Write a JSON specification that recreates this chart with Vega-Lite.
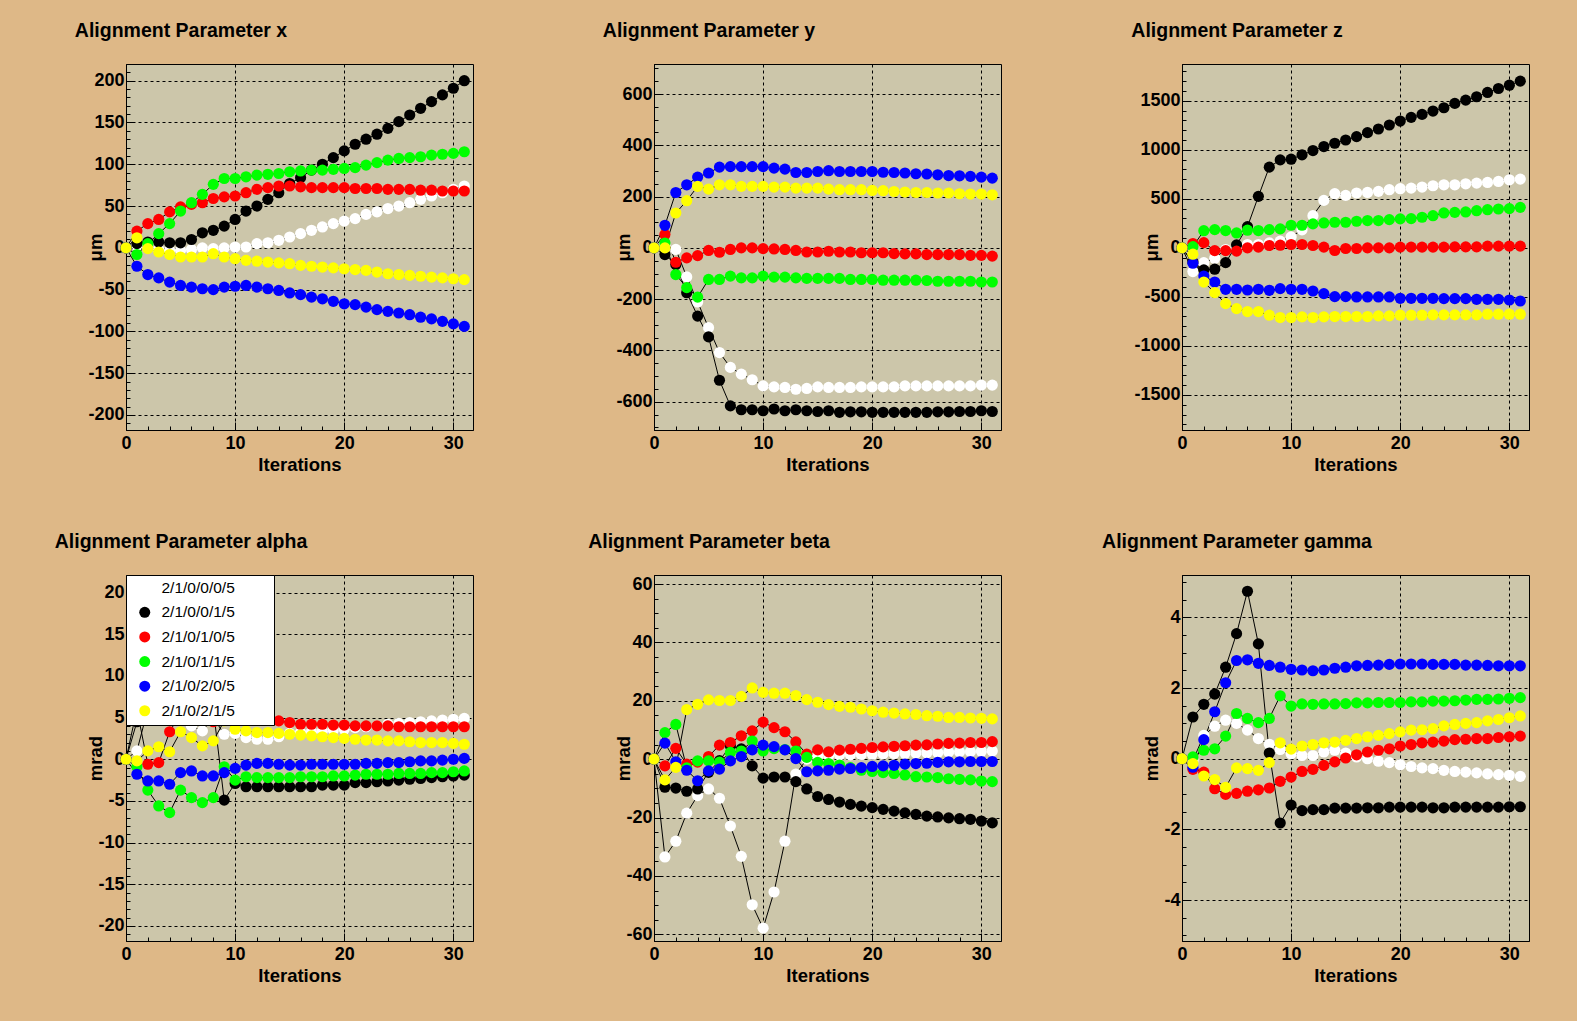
{
"$schema":"https://vega.github.io/schema/vega-lite/v6.json",
"background":"#DEB887",
"padding":{"left":54,"top":20,"right":47,"bottom":36},
"config":{
 "font":"Liberation Sans",
 "view":{"fill":"#CCC6AA","stroke":"#000000","strokeWidth":1},
 "title":{"font":"Liberation Sans","fontSize":19.5,"fontWeight":"bold","color":"#000000","anchor":"middle","frame":"group","dx":-118.5,"offset":22.5,"baseline":"alphabetic"},
 "axis":{"domainColor":"#000000","tickColor":"#000000","labelColor":"#000000","titleColor":"#000000","labelFont":"Liberation Sans","titleFont":"Liberation Sans","labelFontWeight":"bold","titleFontWeight":"bold","labelFontSize":18,"titleFontSize":18.5,"labelFlush":false,"labelOverlap":false,"labelExpr":"datum.value + ''","gridColor":"#000000","gridOpacity":1,"gridDash":[3,3],"gridWidth":1}
},
"datasets":{
"x":[
{"s":"2/1/0/0/0/5","i":0,"v":0},{"s":"2/1/0/0/0/5","i":1,"v":3},{"s":"2/1/0/0/0/5","i":2,"v":0},{"s":"2/1/0/0/0/5","i":3,"v":-2},{"s":"2/1/0/0/0/5","i":4,"v":-3},{"s":"2/1/0/0/0/5","i":5,"v":-3},{"s":"2/1/0/0/0/5","i":6,"v":-2},{"s":"2/1/0/0/0/5","i":7,"v":0},{"s":"2/1/0/0/0/5","i":8,"v":-1},{"s":"2/1/0/0/0/5","i":9,"v":0},{"s":"2/1/0/0/0/5","i":10,"v":1},{"s":"2/1/0/0/0/5","i":11,"v":1},{"s":"2/1/0/0/0/5","i":12,"v":5},{"s":"2/1/0/0/0/5","i":13,"v":6},{"s":"2/1/0/0/0/5","i":14,"v":9},{"s":"2/1/0/0/0/5","i":15,"v":13},{"s":"2/1/0/0/0/5","i":16,"v":17},{"s":"2/1/0/0/0/5","i":17,"v":21},{"s":"2/1/0/0/0/5","i":18,"v":25},{"s":"2/1/0/0/0/5","i":19,"v":29},{"s":"2/1/0/0/0/5","i":20,"v":32},{"s":"2/1/0/0/0/5","i":21,"v":35},{"s":"2/1/0/0/0/5","i":22,"v":40},{"s":"2/1/0/0/0/5","i":23,"v":43},{"s":"2/1/0/0/0/5","i":24,"v":47},{"s":"2/1/0/0/0/5","i":25,"v":50},{"s":"2/1/0/0/0/5","i":26,"v":54},{"s":"2/1/0/0/0/5","i":27,"v":58},{"s":"2/1/0/0/0/5","i":28,"v":62},{"s":"2/1/0/0/0/5","i":29,"v":66},{"s":"2/1/0/0/0/5","i":30,"v":70},{"s":"2/1/0/0/0/5","i":31,"v":74},
{"s":"2/1/0/0/1/5","i":0,"v":0},{"s":"2/1/0/0/1/5","i":1,"v":5},{"s":"2/1/0/0/1/5","i":2,"v":7},{"s":"2/1/0/0/1/5","i":3,"v":7},{"s":"2/1/0/0/1/5","i":4,"v":6},{"s":"2/1/0/0/1/5","i":5,"v":6},{"s":"2/1/0/0/1/5","i":6,"v":10},{"s":"2/1/0/0/1/5","i":7,"v":18},{"s":"2/1/0/0/1/5","i":8,"v":21},{"s":"2/1/0/0/1/5","i":9,"v":26},{"s":"2/1/0/0/1/5","i":10,"v":34},{"s":"2/1/0/0/1/5","i":11,"v":44},{"s":"2/1/0/0/1/5","i":12,"v":50},{"s":"2/1/0/0/1/5","i":13,"v":58},{"s":"2/1/0/0/1/5","i":14,"v":66},{"s":"2/1/0/0/1/5","i":15,"v":77},{"s":"2/1/0/0/1/5","i":16,"v":84},{"s":"2/1/0/0/1/5","i":17,"v":93},{"s":"2/1/0/0/1/5","i":18,"v":100},{"s":"2/1/0/0/1/5","i":19,"v":108},{"s":"2/1/0/0/1/5","i":20,"v":116},{"s":"2/1/0/0/1/5","i":21,"v":124},{"s":"2/1/0/0/1/5","i":22,"v":130},{"s":"2/1/0/0/1/5","i":23,"v":136},{"s":"2/1/0/0/1/5","i":24,"v":143},{"s":"2/1/0/0/1/5","i":25,"v":151},{"s":"2/1/0/0/1/5","i":26,"v":159},{"s":"2/1/0/0/1/5","i":27,"v":167},{"s":"2/1/0/0/1/5","i":28,"v":175},{"s":"2/1/0/0/1/5","i":29,"v":183},{"s":"2/1/0/0/1/5","i":30,"v":191},{"s":"2/1/0/0/1/5","i":31,"v":200},
{"s":"2/1/0/1/0/5","i":0,"v":0},{"s":"2/1/0/1/0/5","i":1,"v":20},{"s":"2/1/0/1/0/5","i":2,"v":29},{"s":"2/1/0/1/0/5","i":3,"v":34},{"s":"2/1/0/1/0/5","i":4,"v":43},{"s":"2/1/0/1/0/5","i":5,"v":49},{"s":"2/1/0/1/0/5","i":6,"v":52},{"s":"2/1/0/1/0/5","i":7,"v":54},{"s":"2/1/0/1/0/5","i":8,"v":59},{"s":"2/1/0/1/0/5","i":9,"v":61},{"s":"2/1/0/1/0/5","i":10,"v":62},{"s":"2/1/0/1/0/5","i":11,"v":66},{"s":"2/1/0/1/0/5","i":12,"v":70},{"s":"2/1/0/1/0/5","i":13,"v":72},{"s":"2/1/0/1/0/5","i":14,"v":74},{"s":"2/1/0/1/0/5","i":15,"v":74},{"s":"2/1/0/1/0/5","i":16,"v":73},{"s":"2/1/0/1/0/5","i":17,"v":72},{"s":"2/1/0/1/0/5","i":18,"v":72},{"s":"2/1/0/1/0/5","i":19,"v":72},{"s":"2/1/0/1/0/5","i":20,"v":72},{"s":"2/1/0/1/0/5","i":21,"v":71},{"s":"2/1/0/1/0/5","i":22,"v":71},{"s":"2/1/0/1/0/5","i":23,"v":71},{"s":"2/1/0/1/0/5","i":24,"v":70},{"s":"2/1/0/1/0/5","i":25,"v":70},{"s":"2/1/0/1/0/5","i":26,"v":70},{"s":"2/1/0/1/0/5","i":27,"v":69},{"s":"2/1/0/1/0/5","i":28,"v":69},{"s":"2/1/0/1/0/5","i":29,"v":68},{"s":"2/1/0/1/0/5","i":30,"v":68},{"s":"2/1/0/1/0/5","i":31,"v":68},
{"s":"2/1/0/1/1/5","i":0,"v":0},{"s":"2/1/0/1/1/5","i":1,"v":-8},{"s":"2/1/0/1/1/5","i":2,"v":5},{"s":"2/1/0/1/1/5","i":3,"v":17},{"s":"2/1/0/1/1/5","i":4,"v":29},{"s":"2/1/0/1/1/5","i":5,"v":44},{"s":"2/1/0/1/1/5","i":6,"v":54},{"s":"2/1/0/1/1/5","i":7,"v":64},{"s":"2/1/0/1/1/5","i":8,"v":76},{"s":"2/1/0/1/1/5","i":9,"v":83},{"s":"2/1/0/1/1/5","i":10,"v":83},{"s":"2/1/0/1/1/5","i":11,"v":85},{"s":"2/1/0/1/1/5","i":12,"v":87},{"s":"2/1/0/1/1/5","i":13,"v":88},{"s":"2/1/0/1/1/5","i":14,"v":89},{"s":"2/1/0/1/1/5","i":15,"v":91},{"s":"2/1/0/1/1/5","i":16,"v":92},{"s":"2/1/0/1/1/5","i":17,"v":93},{"s":"2/1/0/1/1/5","i":18,"v":93},{"s":"2/1/0/1/1/5","i":19,"v":94},{"s":"2/1/0/1/1/5","i":20,"v":95},{"s":"2/1/0/1/1/5","i":21,"v":96},{"s":"2/1/0/1/1/5","i":22,"v":99},{"s":"2/1/0/1/1/5","i":23,"v":102},{"s":"2/1/0/1/1/5","i":24,"v":105},{"s":"2/1/0/1/1/5","i":25,"v":107},{"s":"2/1/0/1/1/5","i":26,"v":108},{"s":"2/1/0/1/1/5","i":27,"v":109},{"s":"2/1/0/1/1/5","i":28,"v":111},{"s":"2/1/0/1/1/5","i":29,"v":112},{"s":"2/1/0/1/1/5","i":30,"v":113},{"s":"2/1/0/1/1/5","i":31,"v":115},
{"s":"2/1/0/2/0/5","i":0,"v":0},{"s":"2/1/0/2/0/5","i":1,"v":-22},{"s":"2/1/0/2/0/5","i":2,"v":-32},{"s":"2/1/0/2/0/5","i":3,"v":-36},{"s":"2/1/0/2/0/5","i":4,"v":-41},{"s":"2/1/0/2/0/5","i":5,"v":-45},{"s":"2/1/0/2/0/5","i":6,"v":-47},{"s":"2/1/0/2/0/5","i":7,"v":-49},{"s":"2/1/0/2/0/5","i":8,"v":-50},{"s":"2/1/0/2/0/5","i":9,"v":-47},{"s":"2/1/0/2/0/5","i":10,"v":-46},{"s":"2/1/0/2/0/5","i":11,"v":-45},{"s":"2/1/0/2/0/5","i":12,"v":-47},{"s":"2/1/0/2/0/5","i":13,"v":-49},{"s":"2/1/0/2/0/5","i":14,"v":-51},{"s":"2/1/0/2/0/5","i":15,"v":-54},{"s":"2/1/0/2/0/5","i":16,"v":-56},{"s":"2/1/0/2/0/5","i":17,"v":-59},{"s":"2/1/0/2/0/5","i":18,"v":-61},{"s":"2/1/0/2/0/5","i":19,"v":-64},{"s":"2/1/0/2/0/5","i":20,"v":-67},{"s":"2/1/0/2/0/5","i":21,"v":-68},{"s":"2/1/0/2/0/5","i":22,"v":-71},{"s":"2/1/0/2/0/5","i":23,"v":-74},{"s":"2/1/0/2/0/5","i":24,"v":-76},{"s":"2/1/0/2/0/5","i":25,"v":-78},{"s":"2/1/0/2/0/5","i":26,"v":-80},{"s":"2/1/0/2/0/5","i":27,"v":-83},{"s":"2/1/0/2/0/5","i":28,"v":-85},{"s":"2/1/0/2/0/5","i":29,"v":-88},{"s":"2/1/0/2/0/5","i":30,"v":-91},{"s":"2/1/0/2/0/5","i":31,"v":-94},
{"s":"2/1/0/2/1/5","i":0,"v":0},{"s":"2/1/0/2/1/5","i":1,"v":12},{"s":"2/1/0/2/1/5","i":2,"v":-1},{"s":"2/1/0/2/1/5","i":3,"v":-5},{"s":"2/1/0/2/1/5","i":4,"v":-8},{"s":"2/1/0/2/1/5","i":5,"v":-11},{"s":"2/1/0/2/1/5","i":6,"v":-11},{"s":"2/1/0/2/1/5","i":7,"v":-11},{"s":"2/1/0/2/1/5","i":8,"v":-7},{"s":"2/1/0/2/1/5","i":9,"v":-11},{"s":"2/1/0/2/1/5","i":10,"v":-13},{"s":"2/1/0/2/1/5","i":11,"v":-15},{"s":"2/1/0/2/1/5","i":12,"v":-16},{"s":"2/1/0/2/1/5","i":13,"v":-17},{"s":"2/1/0/2/1/5","i":14,"v":-18},{"s":"2/1/0/2/1/5","i":15,"v":-19},{"s":"2/1/0/2/1/5","i":16,"v":-21},{"s":"2/1/0/2/1/5","i":17,"v":-22},{"s":"2/1/0/2/1/5","i":18,"v":-23},{"s":"2/1/0/2/1/5","i":19,"v":-24},{"s":"2/1/0/2/1/5","i":20,"v":-25},{"s":"2/1/0/2/1/5","i":21,"v":-26},{"s":"2/1/0/2/1/5","i":22,"v":-27},{"s":"2/1/0/2/1/5","i":23,"v":-29},{"s":"2/1/0/2/1/5","i":24,"v":-31},{"s":"2/1/0/2/1/5","i":25,"v":-32},{"s":"2/1/0/2/1/5","i":26,"v":-33},{"s":"2/1/0/2/1/5","i":27,"v":-34},{"s":"2/1/0/2/1/5","i":28,"v":-35},{"s":"2/1/0/2/1/5","i":29,"v":-36},{"s":"2/1/0/2/1/5","i":30,"v":-37},{"s":"2/1/0/2/1/5","i":31,"v":-38}
],
"y":[
{"s":"2/1/0/0/0/5","i":0,"v":0},{"s":"2/1/0/0/0/5","i":1,"v":10},{"s":"2/1/0/0/0/5","i":2,"v":-6},{"s":"2/1/0/0/0/5","i":3,"v":-113},{"s":"2/1/0/0/0/5","i":4,"v":-211},{"s":"2/1/0/0/0/5","i":5,"v":-311},{"s":"2/1/0/0/0/5","i":6,"v":-408},{"s":"2/1/0/0/0/5","i":7,"v":-466},{"s":"2/1/0/0/0/5","i":8,"v":-492},{"s":"2/1/0/0/0/5","i":9,"v":-514},{"s":"2/1/0/0/0/5","i":10,"v":-538},{"s":"2/1/0/0/0/5","i":11,"v":-542},{"s":"2/1/0/0/0/5","i":12,"v":-544},{"s":"2/1/0/0/0/5","i":13,"v":-551},{"s":"2/1/0/0/0/5","i":14,"v":-548},{"s":"2/1/0/0/0/5","i":15,"v":-542},{"s":"2/1/0/0/0/5","i":16,"v":-544},{"s":"2/1/0/0/0/5","i":17,"v":-544},{"s":"2/1/0/0/0/5","i":18,"v":-544},{"s":"2/1/0/0/0/5","i":19,"v":-542},{"s":"2/1/0/0/0/5","i":20,"v":-542},{"s":"2/1/0/0/0/5","i":21,"v":-542},{"s":"2/1/0/0/0/5","i":22,"v":-542},{"s":"2/1/0/0/0/5","i":23,"v":-538},{"s":"2/1/0/0/0/5","i":24,"v":-538},{"s":"2/1/0/0/0/5","i":25,"v":-538},{"s":"2/1/0/0/0/5","i":26,"v":-538},{"s":"2/1/0/0/0/5","i":27,"v":-538},{"s":"2/1/0/0/0/5","i":28,"v":-538},{"s":"2/1/0/0/0/5","i":29,"v":-538},{"s":"2/1/0/0/0/5","i":30,"v":-535},{"s":"2/1/0/0/0/5","i":31,"v":-535},
{"s":"2/1/0/0/1/5","i":0,"v":0},{"s":"2/1/0/0/1/5","i":1,"v":-26},{"s":"2/1/0/0/1/5","i":2,"v":-65},{"s":"2/1/0/0/1/5","i":3,"v":-175},{"s":"2/1/0/0/1/5","i":4,"v":-266},{"s":"2/1/0/0/1/5","i":5,"v":-347},{"s":"2/1/0/0/1/5","i":6,"v":-516},{"s":"2/1/0/0/1/5","i":7,"v":-616},{"s":"2/1/0/0/1/5","i":8,"v":-631},{"s":"2/1/0/0/1/5","i":9,"v":-631},{"s":"2/1/0/0/1/5","i":10,"v":-635},{"s":"2/1/0/0/1/5","i":11,"v":-628},{"s":"2/1/0/0/1/5","i":12,"v":-635},{"s":"2/1/0/0/1/5","i":13,"v":-631},{"s":"2/1/0/0/1/5","i":14,"v":-635},{"s":"2/1/0/0/1/5","i":15,"v":-638},{"s":"2/1/0/0/1/5","i":16,"v":-635},{"s":"2/1/0/0/1/5","i":17,"v":-641},{"s":"2/1/0/0/1/5","i":18,"v":-639},{"s":"2/1/0/0/1/5","i":19,"v":-639},{"s":"2/1/0/0/1/5","i":20,"v":-641},{"s":"2/1/0/0/1/5","i":21,"v":-641},{"s":"2/1/0/0/1/5","i":22,"v":-641},{"s":"2/1/0/0/1/5","i":23,"v":-641},{"s":"2/1/0/0/1/5","i":24,"v":-641},{"s":"2/1/0/0/1/5","i":25,"v":-641},{"s":"2/1/0/0/1/5","i":26,"v":-639},{"s":"2/1/0/0/1/5","i":27,"v":-639},{"s":"2/1/0/0/1/5","i":28,"v":-638},{"s":"2/1/0/0/1/5","i":29,"v":-638},{"s":"2/1/0/0/1/5","i":30,"v":-635},{"s":"2/1/0/0/1/5","i":31,"v":-638},
{"s":"2/1/0/1/0/5","i":0,"v":0},{"s":"2/1/0/1/0/5","i":1,"v":52},{"s":"2/1/0/1/0/5","i":2,"v":-56},{"s":"2/1/0/1/0/5","i":3,"v":-39},{"s":"2/1/0/1/0/5","i":4,"v":-30},{"s":"2/1/0/1/0/5","i":5,"v":-10},{"s":"2/1/0/1/0/5","i":6,"v":-17},{"s":"2/1/0/1/0/5","i":7,"v":-6},{"s":"2/1/0/1/0/5","i":8,"v":0},{"s":"2/1/0/1/0/5","i":9,"v":0},{"s":"2/1/0/1/0/5","i":10,"v":-3},{"s":"2/1/0/1/0/5","i":11,"v":-4},{"s":"2/1/0/1/0/5","i":12,"v":-6},{"s":"2/1/0/1/0/5","i":13,"v":-10},{"s":"2/1/0/1/0/5","i":14,"v":-16},{"s":"2/1/0/1/0/5","i":15,"v":-16},{"s":"2/1/0/1/0/5","i":16,"v":-13},{"s":"2/1/0/1/0/5","i":17,"v":-16},{"s":"2/1/0/1/0/5","i":18,"v":-16},{"s":"2/1/0/1/0/5","i":19,"v":-19},{"s":"2/1/0/1/0/5","i":20,"v":-19},{"s":"2/1/0/1/0/5","i":21,"v":-19},{"s":"2/1/0/1/0/5","i":22,"v":-22},{"s":"2/1/0/1/0/5","i":23,"v":-23},{"s":"2/1/0/1/0/5","i":24,"v":-23},{"s":"2/1/0/1/0/5","i":25,"v":-26},{"s":"2/1/0/1/0/5","i":26,"v":-26},{"s":"2/1/0/1/0/5","i":27,"v":-26},{"s":"2/1/0/1/0/5","i":28,"v":-26},{"s":"2/1/0/1/0/5","i":29,"v":-29},{"s":"2/1/0/1/0/5","i":30,"v":-29},{"s":"2/1/0/1/0/5","i":31,"v":-32},
{"s":"2/1/0/1/1/5","i":0,"v":0},{"s":"2/1/0/1/1/5","i":1,"v":19},{"s":"2/1/0/1/1/5","i":2,"v":-104},{"s":"2/1/0/1/1/5","i":3,"v":-155},{"s":"2/1/0/1/1/5","i":4,"v":-192},{"s":"2/1/0/1/1/5","i":5,"v":-123},{"s":"2/1/0/1/1/5","i":6,"v":-123},{"s":"2/1/0/1/1/5","i":7,"v":-110},{"s":"2/1/0/1/1/5","i":8,"v":-117},{"s":"2/1/0/1/1/5","i":9,"v":-117},{"s":"2/1/0/1/1/5","i":10,"v":-110},{"s":"2/1/0/1/1/5","i":11,"v":-114},{"s":"2/1/0/1/1/5","i":12,"v":-114},{"s":"2/1/0/1/1/5","i":13,"v":-117},{"s":"2/1/0/1/1/5","i":14,"v":-119},{"s":"2/1/0/1/1/5","i":15,"v":-119},{"s":"2/1/0/1/1/5","i":16,"v":-119},{"s":"2/1/0/1/1/5","i":17,"v":-119},{"s":"2/1/0/1/1/5","i":18,"v":-123},{"s":"2/1/0/1/1/5","i":19,"v":-123},{"s":"2/1/0/1/1/5","i":20,"v":-123},{"s":"2/1/0/1/1/5","i":21,"v":-126},{"s":"2/1/0/1/1/5","i":22,"v":-126},{"s":"2/1/0/1/1/5","i":23,"v":-126},{"s":"2/1/0/1/1/5","i":24,"v":-126},{"s":"2/1/0/1/1/5","i":25,"v":-127},{"s":"2/1/0/1/1/5","i":26,"v":-130},{"s":"2/1/0/1/1/5","i":27,"v":-130},{"s":"2/1/0/1/1/5","i":28,"v":-130},{"s":"2/1/0/1/1/5","i":29,"v":-130},{"s":"2/1/0/1/1/5","i":30,"v":-133},{"s":"2/1/0/1/1/5","i":31,"v":-133},
{"s":"2/1/0/2/0/5","i":0,"v":0},{"s":"2/1/0/2/0/5","i":1,"v":88},{"s":"2/1/0/2/0/5","i":2,"v":216},{"s":"2/1/0/2/0/5","i":3,"v":246},{"s":"2/1/0/2/0/5","i":4,"v":276},{"s":"2/1/0/2/0/5","i":5,"v":292},{"s":"2/1/0/2/0/5","i":6,"v":315},{"s":"2/1/0/2/0/5","i":7,"v":317},{"s":"2/1/0/2/0/5","i":8,"v":317},{"s":"2/1/0/2/0/5","i":9,"v":317},{"s":"2/1/0/2/0/5","i":10,"v":317},{"s":"2/1/0/2/0/5","i":11,"v":311},{"s":"2/1/0/2/0/5","i":12,"v":307},{"s":"2/1/0/2/0/5","i":13,"v":294},{"s":"2/1/0/2/0/5","i":14,"v":294},{"s":"2/1/0/2/0/5","i":15,"v":298},{"s":"2/1/0/2/0/5","i":16,"v":301},{"s":"2/1/0/2/0/5","i":17,"v":298},{"s":"2/1/0/2/0/5","i":18,"v":298},{"s":"2/1/0/2/0/5","i":19,"v":298},{"s":"2/1/0/2/0/5","i":20,"v":298},{"s":"2/1/0/2/0/5","i":21,"v":295},{"s":"2/1/0/2/0/5","i":22,"v":294},{"s":"2/1/0/2/0/5","i":23,"v":292},{"s":"2/1/0/2/0/5","i":24,"v":289},{"s":"2/1/0/2/0/5","i":25,"v":288},{"s":"2/1/0/2/0/5","i":26,"v":285},{"s":"2/1/0/2/0/5","i":27,"v":282},{"s":"2/1/0/2/0/5","i":28,"v":281},{"s":"2/1/0/2/0/5","i":29,"v":279},{"s":"2/1/0/2/0/5","i":30,"v":276},{"s":"2/1/0/2/0/5","i":31,"v":272},
{"s":"2/1/0/2/1/5","i":0,"v":0},{"s":"2/1/0/2/1/5","i":1,"v":0},{"s":"2/1/0/2/1/5","i":2,"v":136},{"s":"2/1/0/2/1/5","i":3,"v":184},{"s":"2/1/0/2/1/5","i":4,"v":240},{"s":"2/1/0/2/1/5","i":5,"v":229},{"s":"2/1/0/2/1/5","i":6,"v":246},{"s":"2/1/0/2/1/5","i":7,"v":246},{"s":"2/1/0/2/1/5","i":8,"v":240},{"s":"2/1/0/2/1/5","i":9,"v":240},{"s":"2/1/0/2/1/5","i":10,"v":240},{"s":"2/1/0/2/1/5","i":11,"v":237},{"s":"2/1/0/2/1/5","i":12,"v":237},{"s":"2/1/0/2/1/5","i":13,"v":233},{"s":"2/1/0/2/1/5","i":14,"v":233},{"s":"2/1/0/2/1/5","i":15,"v":233},{"s":"2/1/0/2/1/5","i":16,"v":229},{"s":"2/1/0/2/1/5","i":17,"v":227},{"s":"2/1/0/2/1/5","i":18,"v":227},{"s":"2/1/0/2/1/5","i":19,"v":227},{"s":"2/1/0/2/1/5","i":20,"v":224},{"s":"2/1/0/2/1/5","i":21,"v":223},{"s":"2/1/0/2/1/5","i":22,"v":220},{"s":"2/1/0/2/1/5","i":23,"v":218},{"s":"2/1/0/2/1/5","i":24,"v":216},{"s":"2/1/0/2/1/5","i":25,"v":216},{"s":"2/1/0/2/1/5","i":26,"v":214},{"s":"2/1/0/2/1/5","i":27,"v":214},{"s":"2/1/0/2/1/5","i":28,"v":211},{"s":"2/1/0/2/1/5","i":29,"v":210},{"s":"2/1/0/2/1/5","i":30,"v":210},{"s":"2/1/0/2/1/5","i":31,"v":207}
],
"z":[
{"s":"2/1/0/0/0/5","i":0,"v":0},{"s":"2/1/0/0/0/5","i":1,"v":-242},{"s":"2/1/0/0/0/5","i":2,"v":-151},{"s":"2/1/0/0/0/5","i":3,"v":-106},{"s":"2/1/0/0/0/5","i":4,"v":-17},{"s":"2/1/0/0/0/5","i":5,"v":10},{"s":"2/1/0/0/0/5","i":6,"v":34},{"s":"2/1/0/0/0/5","i":7,"v":34},{"s":"2/1/0/0/0/5","i":8,"v":51},{"s":"2/1/0/0/0/5","i":9,"v":68},{"s":"2/1/0/0/0/5","i":10,"v":112},{"s":"2/1/0/0/0/5","i":11,"v":184},{"s":"2/1/0/0/0/5","i":12,"v":328},{"s":"2/1/0/0/0/5","i":13,"v":484},{"s":"2/1/0/0/0/5","i":14,"v":552},{"s":"2/1/0/0/0/5","i":15,"v":535},{"s":"2/1/0/0/0/5","i":16,"v":559},{"s":"2/1/0/0/0/5","i":17,"v":565},{"s":"2/1/0/0/0/5","i":18,"v":576},{"s":"2/1/0/0/0/5","i":19,"v":593},{"s":"2/1/0/0/0/5","i":20,"v":603},{"s":"2/1/0/0/0/5","i":21,"v":609},{"s":"2/1/0/0/0/5","i":22,"v":620},{"s":"2/1/0/0/0/5","i":23,"v":633},{"s":"2/1/0/0/0/5","i":24,"v":643},{"s":"2/1/0/0/0/5","i":25,"v":643},{"s":"2/1/0/0/0/5","i":26,"v":653},{"s":"2/1/0/0/0/5","i":27,"v":660},{"s":"2/1/0/0/0/5","i":28,"v":667},{"s":"2/1/0/0/0/5","i":29,"v":677},{"s":"2/1/0/0/0/5","i":30,"v":694},{"s":"2/1/0/0/0/5","i":31,"v":701},
{"s":"2/1/0/0/1/5","i":0,"v":0},{"s":"2/1/0/0/1/5","i":1,"v":-145},{"s":"2/1/0/0/1/5","i":2,"v":-225},{"s":"2/1/0/0/1/5","i":3,"v":-218},{"s":"2/1/0/0/1/5","i":4,"v":-151},{"s":"2/1/0/0/1/5","i":5,"v":30},{"s":"2/1/0/0/1/5","i":6,"v":216},{"s":"2/1/0/0/1/5","i":7,"v":525},{"s":"2/1/0/0/1/5","i":8,"v":823},{"s":"2/1/0/0/1/5","i":9,"v":897},{"s":"2/1/0/0/1/5","i":10,"v":904},{"s":"2/1/0/0/1/5","i":11,"v":948},{"s":"2/1/0/0/1/5","i":12,"v":992},{"s":"2/1/0/0/1/5","i":13,"v":1033},{"s":"2/1/0/0/1/5","i":14,"v":1067},{"s":"2/1/0/0/1/5","i":15,"v":1100},{"s":"2/1/0/0/1/5","i":16,"v":1134},{"s":"2/1/0/0/1/5","i":17,"v":1175},{"s":"2/1/0/0/1/5","i":18,"v":1212},{"s":"2/1/0/0/1/5","i":19,"v":1253},{"s":"2/1/0/0/1/5","i":20,"v":1293},{"s":"2/1/0/0/1/5","i":21,"v":1331},{"s":"2/1/0/0/1/5","i":22,"v":1361},{"s":"2/1/0/0/1/5","i":23,"v":1395},{"s":"2/1/0/0/1/5","i":24,"v":1429},{"s":"2/1/0/0/1/5","i":25,"v":1473},{"s":"2/1/0/0/1/5","i":26,"v":1507},{"s":"2/1/0/0/1/5","i":27,"v":1541},{"s":"2/1/0/0/1/5","i":28,"v":1585},{"s":"2/1/0/0/1/5","i":29,"v":1625},{"s":"2/1/0/0/1/5","i":30,"v":1659},{"s":"2/1/0/0/1/5","i":31,"v":1700},
{"s":"2/1/0/1/0/5","i":0,"v":0},{"s":"2/1/0/1/0/5","i":1,"v":44},{"s":"2/1/0/1/0/5","i":2,"v":53},{"s":"2/1/0/1/0/5","i":3,"v":-28},{"s":"2/1/0/1/0/5","i":4,"v":-28},{"s":"2/1/0/1/0/5","i":5,"v":-34},{"s":"2/1/0/1/0/5","i":6,"v":0},{"s":"2/1/0/1/0/5","i":7,"v":7},{"s":"2/1/0/1/0/5","i":8,"v":24},{"s":"2/1/0/1/0/5","i":9,"v":27},{"s":"2/1/0/1/0/5","i":10,"v":34},{"s":"2/1/0/1/0/5","i":11,"v":34},{"s":"2/1/0/1/0/5","i":12,"v":24},{"s":"2/1/0/1/0/5","i":13,"v":7},{"s":"2/1/0/1/0/5","i":14,"v":-27},{"s":"2/1/0/1/0/5","i":15,"v":-7},{"s":"2/1/0/1/0/5","i":16,"v":-7},{"s":"2/1/0/1/0/5","i":17,"v":0},{"s":"2/1/0/1/0/5","i":18,"v":0},{"s":"2/1/0/1/0/5","i":19,"v":0},{"s":"2/1/0/1/0/5","i":20,"v":7},{"s":"2/1/0/1/0/5","i":21,"v":7},{"s":"2/1/0/1/0/5","i":22,"v":7},{"s":"2/1/0/1/0/5","i":23,"v":7},{"s":"2/1/0/1/0/5","i":24,"v":7},{"s":"2/1/0/1/0/5","i":25,"v":10},{"s":"2/1/0/1/0/5","i":26,"v":10},{"s":"2/1/0/1/0/5","i":27,"v":10},{"s":"2/1/0/1/0/5","i":28,"v":17},{"s":"2/1/0/1/0/5","i":29,"v":17},{"s":"2/1/0/1/0/5","i":30,"v":17},{"s":"2/1/0/1/0/5","i":31,"v":17},
{"s":"2/1/0/1/1/5","i":0,"v":0},{"s":"2/1/0/1/1/5","i":1,"v":12},{"s":"2/1/0/1/1/5","i":2,"v":175},{"s":"2/1/0/1/1/5","i":3,"v":186},{"s":"2/1/0/1/1/5","i":4,"v":176},{"s":"2/1/0/1/1/5","i":5,"v":152},{"s":"2/1/0/1/1/5","i":6,"v":180},{"s":"2/1/0/1/1/5","i":7,"v":176},{"s":"2/1/0/1/1/5","i":8,"v":186},{"s":"2/1/0/1/1/5","i":9,"v":193},{"s":"2/1/0/1/1/5","i":10,"v":230},{"s":"2/1/0/1/1/5","i":11,"v":230},{"s":"2/1/0/1/1/5","i":12,"v":244},{"s":"2/1/0/1/1/5","i":13,"v":254},{"s":"2/1/0/1/1/5","i":14,"v":261},{"s":"2/1/0/1/1/5","i":15,"v":261},{"s":"2/1/0/1/1/5","i":16,"v":271},{"s":"2/1/0/1/1/5","i":17,"v":278},{"s":"2/1/0/1/1/5","i":18,"v":278},{"s":"2/1/0/1/1/5","i":19,"v":288},{"s":"2/1/0/1/1/5","i":20,"v":295},{"s":"2/1/0/1/1/5","i":21,"v":298},{"s":"2/1/0/1/1/5","i":22,"v":312},{"s":"2/1/0/1/1/5","i":23,"v":328},{"s":"2/1/0/1/1/5","i":24,"v":356},{"s":"2/1/0/1/1/5","i":25,"v":362},{"s":"2/1/0/1/1/5","i":26,"v":366},{"s":"2/1/0/1/1/5","i":27,"v":379},{"s":"2/1/0/1/1/5","i":28,"v":389},{"s":"2/1/0/1/1/5","i":29,"v":396},{"s":"2/1/0/1/1/5","i":30,"v":400},{"s":"2/1/0/1/1/5","i":31,"v":413},
{"s":"2/1/0/2/0/5","i":0,"v":0},{"s":"2/1/0/2/0/5","i":1,"v":-157},{"s":"2/1/0/2/0/5","i":2,"v":-288},{"s":"2/1/0/2/0/5","i":3,"v":-349},{"s":"2/1/0/2/0/5","i":4,"v":-423},{"s":"2/1/0/2/0/5","i":5,"v":-423},{"s":"2/1/0/2/0/5","i":6,"v":-430},{"s":"2/1/0/2/0/5","i":7,"v":-423},{"s":"2/1/0/2/0/5","i":8,"v":-433},{"s":"2/1/0/2/0/5","i":9,"v":-416},{"s":"2/1/0/2/0/5","i":10,"v":-423},{"s":"2/1/0/2/0/5","i":11,"v":-423},{"s":"2/1/0/2/0/5","i":12,"v":-440},{"s":"2/1/0/2/0/5","i":13,"v":-467},{"s":"2/1/0/2/0/5","i":14,"v":-498},{"s":"2/1/0/2/0/5","i":15,"v":-498},{"s":"2/1/0/2/0/5","i":16,"v":-501},{"s":"2/1/0/2/0/5","i":17,"v":-501},{"s":"2/1/0/2/0/5","i":18,"v":-501},{"s":"2/1/0/2/0/5","i":19,"v":-501},{"s":"2/1/0/2/0/5","i":20,"v":-515},{"s":"2/1/0/2/0/5","i":21,"v":-515},{"s":"2/1/0/2/0/5","i":22,"v":-515},{"s":"2/1/0/2/0/5","i":23,"v":-515},{"s":"2/1/0/2/0/5","i":24,"v":-518},{"s":"2/1/0/2/0/5","i":25,"v":-518},{"s":"2/1/0/2/0/5","i":26,"v":-518},{"s":"2/1/0/2/0/5","i":27,"v":-525},{"s":"2/1/0/2/0/5","i":28,"v":-525},{"s":"2/1/0/2/0/5","i":29,"v":-525},{"s":"2/1/0/2/0/5","i":30,"v":-532},{"s":"2/1/0/2/0/5","i":31,"v":-542},
{"s":"2/1/0/2/1/5","i":0,"v":0},{"s":"2/1/0/2/1/5","i":1,"v":-65},{"s":"2/1/0/2/1/5","i":2,"v":-349},{"s":"2/1/0/2/1/5","i":3,"v":-457},{"s":"2/1/0/2/1/5","i":4,"v":-569},{"s":"2/1/0/2/1/5","i":5,"v":-620},{"s":"2/1/0/2/1/5","i":6,"v":-650},{"s":"2/1/0/2/1/5","i":7,"v":-650},{"s":"2/1/0/2/1/5","i":8,"v":-687},{"s":"2/1/0/2/1/5","i":9,"v":-711},{"s":"2/1/0/2/1/5","i":10,"v":-711},{"s":"2/1/0/2/1/5","i":11,"v":-704},{"s":"2/1/0/2/1/5","i":12,"v":-711},{"s":"2/1/0/2/1/5","i":13,"v":-704},{"s":"2/1/0/2/1/5","i":14,"v":-701},{"s":"2/1/0/2/1/5","i":15,"v":-701},{"s":"2/1/0/2/1/5","i":16,"v":-701},{"s":"2/1/0/2/1/5","i":17,"v":-701},{"s":"2/1/0/2/1/5","i":18,"v":-694},{"s":"2/1/0/2/1/5","i":19,"v":-694},{"s":"2/1/0/2/1/5","i":20,"v":-687},{"s":"2/1/0/2/1/5","i":21,"v":-687},{"s":"2/1/0/2/1/5","i":22,"v":-687},{"s":"2/1/0/2/1/5","i":23,"v":-684},{"s":"2/1/0/2/1/5","i":24,"v":-684},{"s":"2/1/0/2/1/5","i":25,"v":-684},{"s":"2/1/0/2/1/5","i":26,"v":-684},{"s":"2/1/0/2/1/5","i":27,"v":-684},{"s":"2/1/0/2/1/5","i":28,"v":-677},{"s":"2/1/0/2/1/5","i":29,"v":-677},{"s":"2/1/0/2/1/5","i":30,"v":-677},{"s":"2/1/0/2/1/5","i":31,"v":-677}
],
"alpha":[
{"s":"2/1/0/0/0/5","i":0,"v":0},{"s":"2/1/0/0/0/5","i":1,"v":1.0},{"s":"2/1/0/0/0/5","i":2,"v":6},{"s":"2/1/0/0/0/5","i":3,"v":8},{"s":"2/1/0/0/0/5","i":4,"v":7},{"s":"2/1/0/0/0/5","i":5,"v":5},{"s":"2/1/0/0/0/5","i":6,"v":4},{"s":"2/1/0/0/0/5","i":7,"v":3.4},{"s":"2/1/0/0/0/5","i":8,"v":5},{"s":"2/1/0/0/0/5","i":9,"v":3.0},{"s":"2/1/0/0/0/5","i":10,"v":3.1},{"s":"2/1/0/0/0/5","i":11,"v":2.6},{"s":"2/1/0/0/0/5","i":12,"v":2.4},{"s":"2/1/0/0/0/5","i":13,"v":2.4},{"s":"2/1/0/0/0/5","i":14,"v":2.7},{"s":"2/1/0/0/0/5","i":15,"v":3.1},{"s":"2/1/0/0/0/5","i":16,"v":3.2},{"s":"2/1/0/0/0/5","i":17,"v":3.3},{"s":"2/1/0/0/0/5","i":18,"v":3.4},{"s":"2/1/0/0/0/5","i":19,"v":3.5},{"s":"2/1/0/0/0/5","i":20,"v":3.6},{"s":"2/1/0/0/0/5","i":21,"v":3.8},{"s":"2/1/0/0/0/5","i":22,"v":3.9},{"s":"2/1/0/0/0/5","i":23,"v":4.0},{"s":"2/1/0/0/0/5","i":24,"v":4.2},{"s":"2/1/0/0/0/5","i":25,"v":4.3},{"s":"2/1/0/0/0/5","i":26,"v":4.4},{"s":"2/1/0/0/0/5","i":27,"v":4.5},{"s":"2/1/0/0/0/5","i":28,"v":4.6},{"s":"2/1/0/0/0/5","i":29,"v":4.7},{"s":"2/1/0/0/0/5","i":30,"v":4.8},{"s":"2/1/0/0/0/5","i":31,"v":4.9},
{"s":"2/1/0/0/1/5","i":0,"v":0},{"s":"2/1/0/0/1/5","i":1,"v":4.5},{"s":"2/1/0/0/1/5","i":2,"v":7},{"s":"2/1/0/0/1/5","i":3,"v":9},{"s":"2/1/0/0/1/5","i":4,"v":10},{"s":"2/1/0/0/1/5","i":5,"v":8},{"s":"2/1/0/0/1/5","i":6,"v":7},{"s":"2/1/0/0/1/5","i":7,"v":6},{"s":"2/1/0/0/1/5","i":8,"v":6},{"s":"2/1/0/0/1/5","i":9,"v":-4.9},{"s":"2/1/0/0/1/5","i":10,"v":-2.9},{"s":"2/1/0/0/1/5","i":11,"v":-3.3},{"s":"2/1/0/0/1/5","i":12,"v":-3.3},{"s":"2/1/0/0/1/5","i":13,"v":-3.3},{"s":"2/1/0/0/1/5","i":14,"v":-3.3},{"s":"2/1/0/0/1/5","i":15,"v":-3.3},{"s":"2/1/0/0/1/5","i":16,"v":-3.3},{"s":"2/1/0/0/1/5","i":17,"v":-3.3},{"s":"2/1/0/0/1/5","i":18,"v":-3.1},{"s":"2/1/0/0/1/5","i":19,"v":-3.1},{"s":"2/1/0/0/1/5","i":20,"v":-3.1},{"s":"2/1/0/0/1/5","i":21,"v":-2.8},{"s":"2/1/0/0/1/5","i":22,"v":-2.8},{"s":"2/1/0/0/1/5","i":23,"v":-2.7},{"s":"2/1/0/0/1/5","i":24,"v":-2.6},{"s":"2/1/0/0/1/5","i":25,"v":-2.5},{"s":"2/1/0/0/1/5","i":26,"v":-2.4},{"s":"2/1/0/0/1/5","i":27,"v":-2.3},{"s":"2/1/0/0/1/5","i":28,"v":-2.2},{"s":"2/1/0/0/1/5","i":29,"v":-2.1},{"s":"2/1/0/0/1/5","i":30,"v":-2.0},{"s":"2/1/0/0/1/5","i":31,"v":-1.9},
{"s":"2/1/0/1/0/5","i":0,"v":0},{"s":"2/1/0/1/0/5","i":1,"v":6},{"s":"2/1/0/1/0/5","i":2,"v":-0.6},{"s":"2/1/0/1/0/5","i":3,"v":-0.4},{"s":"2/1/0/1/0/5","i":4,"v":3.3},{"s":"2/1/0/1/0/5","i":5,"v":5.5},{"s":"2/1/0/1/0/5","i":6,"v":6},{"s":"2/1/0/1/0/5","i":7,"v":5.5},{"s":"2/1/0/1/0/5","i":8,"v":4.5},{"s":"2/1/0/1/0/5","i":9,"v":4.7},{"s":"2/1/0/1/0/5","i":10,"v":5.0},{"s":"2/1/0/1/0/5","i":11,"v":4.9},{"s":"2/1/0/1/0/5","i":12,"v":4.8},{"s":"2/1/0/1/0/5","i":13,"v":4.7},{"s":"2/1/0/1/0/5","i":14,"v":4.6},{"s":"2/1/0/1/0/5","i":15,"v":4.4},{"s":"2/1/0/1/0/5","i":16,"v":4.2},{"s":"2/1/0/1/0/5","i":17,"v":4.2},{"s":"2/1/0/1/0/5","i":18,"v":4.2},{"s":"2/1/0/1/0/5","i":19,"v":4.1},{"s":"2/1/0/1/0/5","i":20,"v":4.1},{"s":"2/1/0/1/0/5","i":21,"v":4.0},{"s":"2/1/0/1/0/5","i":22,"v":4.0},{"s":"2/1/0/1/0/5","i":23,"v":4.0},{"s":"2/1/0/1/0/5","i":24,"v":4.0},{"s":"2/1/0/1/0/5","i":25,"v":3.9},{"s":"2/1/0/1/0/5","i":26,"v":3.9},{"s":"2/1/0/1/0/5","i":27,"v":3.9},{"s":"2/1/0/1/0/5","i":28,"v":3.9},{"s":"2/1/0/1/0/5","i":29,"v":3.9},{"s":"2/1/0/1/0/5","i":30,"v":3.9},{"s":"2/1/0/1/0/5","i":31,"v":3.9},
{"s":"2/1/0/1/1/5","i":0,"v":0},{"s":"2/1/0/1/1/5","i":1,"v":-0.9},{"s":"2/1/0/1/1/5","i":2,"v":-3.7},{"s":"2/1/0/1/1/5","i":3,"v":-5.6},{"s":"2/1/0/1/1/5","i":4,"v":-6.4},{"s":"2/1/0/1/1/5","i":5,"v":-3.7},{"s":"2/1/0/1/1/5","i":6,"v":-4.6},{"s":"2/1/0/1/1/5","i":7,"v":-5.2},{"s":"2/1/0/1/1/5","i":8,"v":-4.6},{"s":"2/1/0/1/1/5","i":9,"v":-0.9},{"s":"2/1/0/1/1/5","i":10,"v":-2.5},{"s":"2/1/0/1/1/5","i":11,"v":-2.1},{"s":"2/1/0/1/1/5","i":12,"v":-2.2},{"s":"2/1/0/1/1/5","i":13,"v":-2.2},{"s":"2/1/0/1/1/5","i":14,"v":-2.2},{"s":"2/1/0/1/1/5","i":15,"v":-2.2},{"s":"2/1/0/1/1/5","i":16,"v":-2.1},{"s":"2/1/0/1/1/5","i":17,"v":-2.1},{"s":"2/1/0/1/1/5","i":18,"v":-2.1},{"s":"2/1/0/1/1/5","i":19,"v":-2.0},{"s":"2/1/0/1/1/5","i":20,"v":-2.0},{"s":"2/1/0/1/1/5","i":21,"v":-1.9},{"s":"2/1/0/1/1/5","i":22,"v":-1.8},{"s":"2/1/0/1/1/5","i":23,"v":-1.8},{"s":"2/1/0/1/1/5","i":24,"v":-1.8},{"s":"2/1/0/1/1/5","i":25,"v":-1.7},{"s":"2/1/0/1/1/5","i":26,"v":-1.7},{"s":"2/1/0/1/1/5","i":27,"v":-1.7},{"s":"2/1/0/1/1/5","i":28,"v":-1.6},{"s":"2/1/0/1/1/5","i":29,"v":-1.6},{"s":"2/1/0/1/1/5","i":30,"v":-1.5},{"s":"2/1/0/1/1/5","i":31,"v":-1.4},
{"s":"2/1/0/2/0/5","i":0,"v":0},{"s":"2/1/0/2/0/5","i":1,"v":-1.8},{"s":"2/1/0/2/0/5","i":2,"v":-2.6},{"s":"2/1/0/2/0/5","i":3,"v":-2.6},{"s":"2/1/0/2/0/5","i":4,"v":-3.0},{"s":"2/1/0/2/0/5","i":5,"v":-1.6},{"s":"2/1/0/2/0/5","i":6,"v":-1.4},{"s":"2/1/0/2/0/5","i":7,"v":-2.0},{"s":"2/1/0/2/0/5","i":8,"v":-2.0},{"s":"2/1/0/2/0/5","i":9,"v":-1.6},{"s":"2/1/0/2/0/5","i":10,"v":-1.1},{"s":"2/1/0/2/0/5","i":11,"v":-0.7},{"s":"2/1/0/2/0/5","i":12,"v":-0.5},{"s":"2/1/0/2/0/5","i":13,"v":-0.5},{"s":"2/1/0/2/0/5","i":14,"v":-0.6},{"s":"2/1/0/2/0/5","i":15,"v":-0.7},{"s":"2/1/0/2/0/5","i":16,"v":-0.7},{"s":"2/1/0/2/0/5","i":17,"v":-0.6},{"s":"2/1/0/2/0/5","i":18,"v":-0.6},{"s":"2/1/0/2/0/5","i":19,"v":-0.6},{"s":"2/1/0/2/0/5","i":20,"v":-0.6},{"s":"2/1/0/2/0/5","i":21,"v":-0.6},{"s":"2/1/0/2/0/5","i":22,"v":-0.5},{"s":"2/1/0/2/0/5","i":23,"v":-0.5},{"s":"2/1/0/2/0/5","i":24,"v":-0.4},{"s":"2/1/0/2/0/5","i":25,"v":-0.4},{"s":"2/1/0/2/0/5","i":26,"v":-0.3},{"s":"2/1/0/2/0/5","i":27,"v":-0.2},{"s":"2/1/0/2/0/5","i":28,"v":-0.2},{"s":"2/1/0/2/0/5","i":29,"v":-0.1},{"s":"2/1/0/2/0/5","i":30,"v":0.0},{"s":"2/1/0/2/0/5","i":31,"v":0.1},
{"s":"2/1/0/2/1/5","i":0,"v":0},{"s":"2/1/0/2/1/5","i":1,"v":-0.2},{"s":"2/1/0/2/1/5","i":2,"v":1.0},{"s":"2/1/0/2/1/5","i":3,"v":1.5},{"s":"2/1/0/2/1/5","i":4,"v":0.9},{"s":"2/1/0/2/1/5","i":5,"v":3.3},{"s":"2/1/0/2/1/5","i":6,"v":2.6},{"s":"2/1/0/2/1/5","i":7,"v":1.6},{"s":"2/1/0/2/1/5","i":8,"v":2.2},{"s":"2/1/0/2/1/5","i":9,"v":4.6},{"s":"2/1/0/2/1/5","i":10,"v":3.6},{"s":"2/1/0/2/1/5","i":11,"v":3.4},{"s":"2/1/0/2/1/5","i":12,"v":3.2},{"s":"2/1/0/2/1/5","i":13,"v":3.2},{"s":"2/1/0/2/1/5","i":14,"v":3.1},{"s":"2/1/0/2/1/5","i":15,"v":3.0},{"s":"2/1/0/2/1/5","i":16,"v":2.9},{"s":"2/1/0/2/1/5","i":17,"v":2.8},{"s":"2/1/0/2/1/5","i":18,"v":2.7},{"s":"2/1/0/2/1/5","i":19,"v":2.6},{"s":"2/1/0/2/1/5","i":20,"v":2.5},{"s":"2/1/0/2/1/5","i":21,"v":2.4},{"s":"2/1/0/2/1/5","i":22,"v":2.3},{"s":"2/1/0/2/1/5","i":23,"v":2.3},{"s":"2/1/0/2/1/5","i":24,"v":2.2},{"s":"2/1/0/2/1/5","i":25,"v":2.2},{"s":"2/1/0/2/1/5","i":26,"v":2.1},{"s":"2/1/0/2/1/5","i":27,"v":2.0},{"s":"2/1/0/2/1/5","i":28,"v":2.0},{"s":"2/1/0/2/1/5","i":29,"v":2.0},{"s":"2/1/0/2/1/5","i":30,"v":1.9},{"s":"2/1/0/2/1/5","i":31,"v":1.8}
],
"beta":[
{"s":"2/1/0/0/0/5","i":0,"v":0},{"s":"2/1/0/0/0/5","i":1,"v":-33.5},{"s":"2/1/0/0/0/5","i":2,"v":-28.1},{"s":"2/1/0/0/0/5","i":3,"v":-18.5},{"s":"2/1/0/0/0/5","i":4,"v":-12.5},{"s":"2/1/0/0/0/5","i":5,"v":-10.2},{"s":"2/1/0/0/0/5","i":6,"v":-13.4},{"s":"2/1/0/0/0/5","i":7,"v":-22.9},{"s":"2/1/0/0/0/5","i":8,"v":-33.3},{"s":"2/1/0/0/0/5","i":9,"v":-49.9},{"s":"2/1/0/0/0/5","i":10,"v":-57.9},{"s":"2/1/0/0/0/5","i":11,"v":-45.5},{"s":"2/1/0/0/0/5","i":12,"v":-28.1},{"s":"2/1/0/0/0/5","i":13,"v":-5.1},{"s":"2/1/0/0/0/5","i":14,"v":0},{"s":"2/1/0/0/0/5","i":15,"v":1.0},{"s":"2/1/0/0/0/5","i":16,"v":1.2},{"s":"2/1/0/0/0/5","i":17,"v":1.4},{"s":"2/1/0/0/0/5","i":18,"v":1.5},{"s":"2/1/0/0/0/5","i":19,"v":1.6},{"s":"2/1/0/0/0/5","i":20,"v":1.7},{"s":"2/1/0/0/0/5","i":21,"v":1.8},{"s":"2/1/0/0/0/5","i":22,"v":1.9},{"s":"2/1/0/0/0/5","i":23,"v":2.0},{"s":"2/1/0/0/0/5","i":24,"v":2.1},{"s":"2/1/0/0/0/5","i":25,"v":2.2},{"s":"2/1/0/0/0/5","i":26,"v":2.3},{"s":"2/1/0/0/0/5","i":27,"v":2.4},{"s":"2/1/0/0/0/5","i":28,"v":2.5},{"s":"2/1/0/0/0/5","i":29,"v":2.6},{"s":"2/1/0/0/0/5","i":30,"v":2.7},{"s":"2/1/0/0/0/5","i":31,"v":2.8},
{"s":"2/1/0/0/1/5","i":0,"v":0},{"s":"2/1/0/0/1/5","i":1,"v":-9.6},{"s":"2/1/0/0/1/5","i":2,"v":-9.9},{"s":"2/1/0/0/1/5","i":3,"v":-11.0},{"s":"2/1/0/0/1/5","i":4,"v":-10.2},{"s":"2/1/0/0/1/5","i":5,"v":-4.5},{"s":"2/1/0/0/1/5","i":6,"v":-0.5},{"s":"2/1/0/0/1/5","i":7,"v":4.5},{"s":"2/1/0/0/1/5","i":8,"v":3.5},{"s":"2/1/0/0/1/5","i":9,"v":-2.3},{"s":"2/1/0/0/1/5","i":10,"v":-6.5},{"s":"2/1/0/0/1/5","i":11,"v":-6.1},{"s":"2/1/0/0/1/5","i":12,"v":-6.1},{"s":"2/1/0/0/1/5","i":13,"v":-7.7},{"s":"2/1/0/0/1/5","i":14,"v":-10.2},{"s":"2/1/0/0/1/5","i":15,"v":-12.8},{"s":"2/1/0/0/1/5","i":16,"v":-13.8},{"s":"2/1/0/0/1/5","i":17,"v":-14.7},{"s":"2/1/0/0/1/5","i":18,"v":-15.5},{"s":"2/1/0/0/1/5","i":19,"v":-16.1},{"s":"2/1/0/0/1/5","i":20,"v":-16.6},{"s":"2/1/0/0/1/5","i":21,"v":-17.2},{"s":"2/1/0/0/1/5","i":22,"v":-17.8},{"s":"2/1/0/0/1/5","i":23,"v":-18.4},{"s":"2/1/0/0/1/5","i":24,"v":-18.9},{"s":"2/1/0/0/1/5","i":25,"v":-19.5},{"s":"2/1/0/0/1/5","i":26,"v":-19.8},{"s":"2/1/0/0/1/5","i":27,"v":-20.1},{"s":"2/1/0/0/1/5","i":28,"v":-20.4},{"s":"2/1/0/0/1/5","i":29,"v":-20.6},{"s":"2/1/0/0/1/5","i":30,"v":-21.2},{"s":"2/1/0/0/1/5","i":31,"v":-21.8},
{"s":"2/1/0/1/0/5","i":0,"v":0},{"s":"2/1/0/1/0/5","i":1,"v":-2.3},{"s":"2/1/0/1/0/5","i":2,"v":3.7},{"s":"2/1/0/1/0/5","i":3,"v":-1.7},{"s":"2/1/0/1/0/5","i":4,"v":-1},{"s":"2/1/0/1/0/5","i":5,"v":0.9},{"s":"2/1/0/1/0/5","i":6,"v":4.8},{"s":"2/1/0/1/0/5","i":7,"v":5.7},{"s":"2/1/0/1/0/5","i":8,"v":8.0},{"s":"2/1/0/1/0/5","i":9,"v":9.7},{"s":"2/1/0/1/0/5","i":10,"v":12.7},{"s":"2/1/0/1/0/5","i":11,"v":10.8},{"s":"2/1/0/1/0/5","i":12,"v":9.4},{"s":"2/1/0/1/0/5","i":13,"v":5.9},{"s":"2/1/0/1/0/5","i":14,"v":1.7},{"s":"2/1/0/1/0/5","i":15,"v":3.2},{"s":"2/1/0/1/0/5","i":16,"v":2.5},{"s":"2/1/0/1/0/5","i":17,"v":3.1},{"s":"2/1/0/1/0/5","i":18,"v":3.4},{"s":"2/1/0/1/0/5","i":19,"v":3.7},{"s":"2/1/0/1/0/5","i":20,"v":4.0},{"s":"2/1/0/1/0/5","i":21,"v":4.2},{"s":"2/1/0/1/0/5","i":22,"v":4.4},{"s":"2/1/0/1/0/5","i":23,"v":4.6},{"s":"2/1/0/1/0/5","i":24,"v":4.8},{"s":"2/1/0/1/0/5","i":25,"v":4.9},{"s":"2/1/0/1/0/5","i":26,"v":5.2},{"s":"2/1/0/1/0/5","i":27,"v":5.4},{"s":"2/1/0/1/0/5","i":28,"v":5.5},{"s":"2/1/0/1/0/5","i":29,"v":5.7},{"s":"2/1/0/1/0/5","i":30,"v":5.7},{"s":"2/1/0/1/0/5","i":31,"v":6.0},
{"s":"2/1/0/1/1/5","i":0,"v":0},{"s":"2/1/0/1/1/5","i":1,"v":9.1},{"s":"2/1/0/1/1/5","i":2,"v":11.9},{"s":"2/1/0/1/1/5","i":3,"v":-3},{"s":"2/1/0/1/1/5","i":4,"v":-0.6},{"s":"2/1/0/1/1/5","i":5,"v":-0.6},{"s":"2/1/0/1/1/5","i":6,"v":-1},{"s":"2/1/0/1/1/5","i":7,"v":2.3},{"s":"2/1/0/1/1/5","i":8,"v":2.8},{"s":"2/1/0/1/1/5","i":9,"v":6.2},{"s":"2/1/0/1/1/5","i":10,"v":2.8},{"s":"2/1/0/1/1/5","i":11,"v":3.6},{"s":"2/1/0/1/1/5","i":12,"v":3.3},{"s":"2/1/0/1/1/5","i":13,"v":2.8},{"s":"2/1/0/1/1/5","i":14,"v":0.6},{"s":"2/1/0/1/1/5","i":15,"v":-1.1},{"s":"2/1/0/1/1/5","i":16,"v":-1.5},{"s":"2/1/0/1/1/5","i":17,"v":-2.0},{"s":"2/1/0/1/1/5","i":18,"v":-2.9},{"s":"2/1/0/1/1/5","i":19,"v":-3.8},{"s":"2/1/0/1/1/5","i":20,"v":-4.2},{"s":"2/1/0/1/1/5","i":21,"v":-4.6},{"s":"2/1/0/1/1/5","i":22,"v":-4.9},{"s":"2/1/0/1/1/5","i":23,"v":-5.4},{"s":"2/1/0/1/1/5","i":24,"v":-6.0},{"s":"2/1/0/1/1/5","i":25,"v":-6.1},{"s":"2/1/0/1/1/5","i":26,"v":-6.3},{"s":"2/1/0/1/1/5","i":27,"v":-6.7},{"s":"2/1/0/1/1/5","i":28,"v":-6.9},{"s":"2/1/0/1/1/5","i":29,"v":-7.1},{"s":"2/1/0/1/1/5","i":30,"v":-7.5},{"s":"2/1/0/1/1/5","i":31,"v":-7.7},
{"s":"2/1/0/2/0/5","i":0,"v":0},{"s":"2/1/0/2/0/5","i":1,"v":5.5},{"s":"2/1/0/2/0/5","i":2,"v":-0.9},{"s":"2/1/0/2/0/5","i":3,"v":-3.8},{"s":"2/1/0/2/0/5","i":4,"v":-7.4},{"s":"2/1/0/2/0/5","i":5,"v":-4.0},{"s":"2/1/0/2/0/5","i":6,"v":-3.4},{"s":"2/1/0/2/0/5","i":7,"v":-0.6},{"s":"2/1/0/2/0/5","i":8,"v":0.9},{"s":"2/1/0/2/0/5","i":9,"v":3.2},{"s":"2/1/0/2/0/5","i":10,"v":4.8},{"s":"2/1/0/2/0/5","i":11,"v":4.3},{"s":"2/1/0/2/0/5","i":12,"v":3.2},{"s":"2/1/0/2/0/5","i":13,"v":0.2},{"s":"2/1/0/2/0/5","i":14,"v":-4.3},{"s":"2/1/0/2/0/5","i":15,"v":-4.0},{"s":"2/1/0/2/0/5","i":16,"v":-3.8},{"s":"2/1/0/2/0/5","i":17,"v":-3.4},{"s":"2/1/0/2/0/5","i":18,"v":-3.2},{"s":"2/1/0/2/0/5","i":19,"v":-2.9},{"s":"2/1/0/2/0/5","i":20,"v":-2.5},{"s":"2/1/0/2/0/5","i":21,"v":-2.3},{"s":"2/1/0/2/0/5","i":22,"v":-2.1},{"s":"2/1/0/2/0/5","i":23,"v":-1.7},{"s":"2/1/0/2/0/5","i":24,"v":-1.5},{"s":"2/1/0/2/0/5","i":25,"v":-1.4},{"s":"2/1/0/2/0/5","i":26,"v":-1.1},{"s":"2/1/0/2/0/5","i":27,"v":-0.9},{"s":"2/1/0/2/0/5","i":28,"v":-0.9},{"s":"2/1/0/2/0/5","i":29,"v":-0.8},{"s":"2/1/0/2/0/5","i":30,"v":-0.8},{"s":"2/1/0/2/0/5","i":31,"v":-0.8},
{"s":"2/1/0/2/1/5","i":0,"v":0},{"s":"2/1/0/2/1/5","i":1,"v":-7.1},{"s":"2/1/0/2/1/5","i":2,"v":-2.8},{"s":"2/1/0/2/1/5","i":3,"v":17},{"s":"2/1/0/2/1/5","i":4,"v":18.8},{"s":"2/1/0/2/1/5","i":5,"v":20.3},{"s":"2/1/0/2/1/5","i":6,"v":20.1},{"s":"2/1/0/2/1/5","i":7,"v":20.1},{"s":"2/1/0/2/1/5","i":8,"v":21.5},{"s":"2/1/0/2/1/5","i":9,"v":24.4},{"s":"2/1/0/2/1/5","i":10,"v":22.9},{"s":"2/1/0/2/1/5","i":11,"v":22.6},{"s":"2/1/0/2/1/5","i":12,"v":22.6},{"s":"2/1/0/2/1/5","i":13,"v":21.8},{"s":"2/1/0/2/1/5","i":14,"v":20.4},{"s":"2/1/0/2/1/5","i":15,"v":19.5},{"s":"2/1/0/2/1/5","i":16,"v":18.7},{"s":"2/1/0/2/1/5","i":17,"v":18.1},{"s":"2/1/0/2/1/5","i":18,"v":17.8},{"s":"2/1/0/2/1/5","i":19,"v":17.2},{"s":"2/1/0/2/1/5","i":20,"v":16.6},{"s":"2/1/0/2/1/5","i":21,"v":16.1},{"s":"2/1/0/2/1/5","i":22,"v":15.8},{"s":"2/1/0/2/1/5","i":23,"v":15.5},{"s":"2/1/0/2/1/5","i":24,"v":15.3},{"s":"2/1/0/2/1/5","i":25,"v":14.9},{"s":"2/1/0/2/1/5","i":26,"v":14.7},{"s":"2/1/0/2/1/5","i":27,"v":14.3},{"s":"2/1/0/2/1/5","i":28,"v":14.3},{"s":"2/1/0/2/1/5","i":29,"v":14.1},{"s":"2/1/0/2/1/5","i":30,"v":14.0},{"s":"2/1/0/2/1/5","i":31,"v":13.8}
],
"gamma":[
{"s":"2/1/0/0/0/5","i":0,"v":0},{"s":"2/1/0/0/0/5","i":1,"v":-0.05},{"s":"2/1/0/0/0/5","i":2,"v":0.66},{"s":"2/1/0/0/0/5","i":3,"v":0.92},{"s":"2/1/0/0/0/5","i":4,"v":1.09},{"s":"2/1/0/0/0/5","i":5,"v":1.0},{"s":"2/1/0/0/0/5","i":6,"v":0.81},{"s":"2/1/0/0/0/5","i":7,"v":0.57},{"s":"2/1/0/0/0/5","i":8,"v":0.41},{"s":"2/1/0/0/0/5","i":9,"v":0.26},{"s":"2/1/0/0/0/5","i":10,"v":0.14},{"s":"2/1/0/0/0/5","i":11,"v":0.09},{"s":"2/1/0/0/0/5","i":12,"v":0.09},{"s":"2/1/0/0/0/5","i":13,"v":0.19},{"s":"2/1/0/0/0/5","i":14,"v":0.24},{"s":"2/1/0/0/0/5","i":15,"v":0.16},{"s":"2/1/0/0/0/5","i":16,"v":0.05},{"s":"2/1/0/0/0/5","i":17,"v":0.0},{"s":"2/1/0/0/0/5","i":18,"v":-0.07},{"s":"2/1/0/0/0/5","i":19,"v":-0.11},{"s":"2/1/0/0/0/5","i":20,"v":-0.17},{"s":"2/1/0/0/0/5","i":21,"v":-0.22},{"s":"2/1/0/0/0/5","i":22,"v":-0.26},{"s":"2/1/0/0/0/5","i":23,"v":-0.28},{"s":"2/1/0/0/0/5","i":24,"v":-0.33},{"s":"2/1/0/0/0/5","i":25,"v":-0.36},{"s":"2/1/0/0/0/5","i":26,"v":-0.38},{"s":"2/1/0/0/0/5","i":27,"v":-0.40},{"s":"2/1/0/0/0/5","i":28,"v":-0.43},{"s":"2/1/0/0/0/5","i":29,"v":-0.45},{"s":"2/1/0/0/0/5","i":30,"v":-0.47},{"s":"2/1/0/0/0/5","i":31,"v":-0.50},
{"s":"2/1/0/0/1/5","i":0,"v":0},{"s":"2/1/0/0/1/5","i":1,"v":1.18},{"s":"2/1/0/0/1/5","i":2,"v":1.54},{"s":"2/1/0/0/1/5","i":3,"v":1.83},{"s":"2/1/0/0/1/5","i":4,"v":2.59},{"s":"2/1/0/0/1/5","i":5,"v":3.54},{"s":"2/1/0/0/1/5","i":6,"v":4.74},{"s":"2/1/0/0/1/5","i":7,"v":3.25},{"s":"2/1/0/0/1/5","i":8,"v":0.16},{"s":"2/1/0/0/1/5","i":9,"v":-1.82},{"s":"2/1/0/0/1/5","i":10,"v":-1.31},{"s":"2/1/0/0/1/5","i":11,"v":-1.47},{"s":"2/1/0/0/1/5","i":12,"v":-1.44},{"s":"2/1/0/0/1/5","i":13,"v":-1.44},{"s":"2/1/0/0/1/5","i":14,"v":-1.40},{"s":"2/1/0/0/1/5","i":15,"v":-1.40},{"s":"2/1/0/0/1/5","i":16,"v":-1.40},{"s":"2/1/0/0/1/5","i":17,"v":-1.39},{"s":"2/1/0/0/1/5","i":18,"v":-1.39},{"s":"2/1/0/0/1/5","i":19,"v":-1.37},{"s":"2/1/0/0/1/5","i":20,"v":-1.37},{"s":"2/1/0/0/1/5","i":21,"v":-1.37},{"s":"2/1/0/0/1/5","i":22,"v":-1.37},{"s":"2/1/0/0/1/5","i":23,"v":-1.39},{"s":"2/1/0/0/1/5","i":24,"v":-1.39},{"s":"2/1/0/0/1/5","i":25,"v":-1.37},{"s":"2/1/0/0/1/5","i":26,"v":-1.37},{"s":"2/1/0/0/1/5","i":27,"v":-1.37},{"s":"2/1/0/0/1/5","i":28,"v":-1.37},{"s":"2/1/0/0/1/5","i":29,"v":-1.37},{"s":"2/1/0/0/1/5","i":30,"v":-1.36},{"s":"2/1/0/0/1/5","i":31,"v":-1.36},
{"s":"2/1/0/1/0/5","i":0,"v":0},{"s":"2/1/0/1/0/5","i":1,"v":-0.30},{"s":"2/1/0/1/0/5","i":2,"v":-0.38},{"s":"2/1/0/1/0/5","i":3,"v":-0.85},{"s":"2/1/0/1/0/5","i":4,"v":-1.01},{"s":"2/1/0/1/0/5","i":5,"v":-0.98},{"s":"2/1/0/1/0/5","i":6,"v":-0.92},{"s":"2/1/0/1/0/5","i":7,"v":-0.88},{"s":"2/1/0/1/0/5","i":8,"v":-0.83},{"s":"2/1/0/1/0/5","i":9,"v":-0.64},{"s":"2/1/0/1/0/5","i":10,"v":-0.52},{"s":"2/1/0/1/0/5","i":11,"v":-0.36},{"s":"2/1/0/1/0/5","i":12,"v":-0.30},{"s":"2/1/0/1/0/5","i":13,"v":-0.19},{"s":"2/1/0/1/0/5","i":14,"v":-0.09},{"s":"2/1/0/1/0/5","i":15,"v":0.02},{"s":"2/1/0/1/0/5","i":16,"v":0.11},{"s":"2/1/0/1/0/5","i":17,"v":0.19},{"s":"2/1/0/1/0/5","i":18,"v":0.24},{"s":"2/1/0/1/0/5","i":19,"v":0.28},{"s":"2/1/0/1/0/5","i":20,"v":0.36},{"s":"2/1/0/1/0/5","i":21,"v":0.40},{"s":"2/1/0/1/0/5","i":22,"v":0.45},{"s":"2/1/0/1/0/5","i":23,"v":0.47},{"s":"2/1/0/1/0/5","i":24,"v":0.50},{"s":"2/1/0/1/0/5","i":25,"v":0.54},{"s":"2/1/0/1/0/5","i":26,"v":0.55},{"s":"2/1/0/1/0/5","i":27,"v":0.57},{"s":"2/1/0/1/0/5","i":28,"v":0.57},{"s":"2/1/0/1/0/5","i":29,"v":0.60},{"s":"2/1/0/1/0/5","i":30,"v":0.62},{"s":"2/1/0/1/0/5","i":31,"v":0.64},
{"s":"2/1/0/1/1/5","i":0,"v":0},{"s":"2/1/0/1/1/5","i":1,"v":0.05},{"s":"2/1/0/1/1/5","i":2,"v":0.24},{"s":"2/1/0/1/1/5","i":3,"v":0.28},{"s":"2/1/0/1/1/5","i":4,"v":0.64},{"s":"2/1/0/1/1/5","i":5,"v":1.28},{"s":"2/1/0/1/1/5","i":6,"v":1.14},{"s":"2/1/0/1/1/5","i":7,"v":1.02},{"s":"2/1/0/1/1/5","i":8,"v":1.14},{"s":"2/1/0/1/1/5","i":9,"v":1.78},{"s":"2/1/0/1/1/5","i":10,"v":1.49},{"s":"2/1/0/1/1/5","i":11,"v":1.55},{"s":"2/1/0/1/1/5","i":12,"v":1.54},{"s":"2/1/0/1/1/5","i":13,"v":1.55},{"s":"2/1/0/1/1/5","i":14,"v":1.55},{"s":"2/1/0/1/1/5","i":15,"v":1.56},{"s":"2/1/0/1/1/5","i":16,"v":1.58},{"s":"2/1/0/1/1/5","i":17,"v":1.58},{"s":"2/1/0/1/1/5","i":18,"v":1.59},{"s":"2/1/0/1/1/5","i":19,"v":1.59},{"s":"2/1/0/1/1/5","i":20,"v":1.59},{"s":"2/1/0/1/1/5","i":21,"v":1.61},{"s":"2/1/0/1/1/5","i":22,"v":1.61},{"s":"2/1/0/1/1/5","i":23,"v":1.63},{"s":"2/1/0/1/1/5","i":24,"v":1.63},{"s":"2/1/0/1/1/5","i":25,"v":1.64},{"s":"2/1/0/1/1/5","i":26,"v":1.66},{"s":"2/1/0/1/1/5","i":27,"v":1.68},{"s":"2/1/0/1/1/5","i":28,"v":1.68},{"s":"2/1/0/1/1/5","i":29,"v":1.69},{"s":"2/1/0/1/1/5","i":30,"v":1.71},{"s":"2/1/0/1/1/5","i":31,"v":1.73},
{"s":"2/1/0/2/0/5","i":0,"v":0},{"s":"2/1/0/2/0/5","i":1,"v":-0.24},{"s":"2/1/0/2/0/5","i":2,"v":0.54},{"s":"2/1/0/2/0/5","i":3,"v":1.33},{"s":"2/1/0/2/0/5","i":4,"v":2.15},{"s":"2/1/0/2/0/5","i":5,"v":2.78},{"s":"2/1/0/2/0/5","i":6,"v":2.80},{"s":"2/1/0/2/0/5","i":7,"v":2.70},{"s":"2/1/0/2/0/5","i":8,"v":2.64},{"s":"2/1/0/2/0/5","i":9,"v":2.59},{"s":"2/1/0/2/0/5","i":10,"v":2.53},{"s":"2/1/0/2/0/5","i":11,"v":2.51},{"s":"2/1/0/2/0/5","i":12,"v":2.49},{"s":"2/1/0/2/0/5","i":13,"v":2.51},{"s":"2/1/0/2/0/5","i":14,"v":2.56},{"s":"2/1/0/2/0/5","i":15,"v":2.59},{"s":"2/1/0/2/0/5","i":16,"v":2.63},{"s":"2/1/0/2/0/5","i":17,"v":2.64},{"s":"2/1/0/2/0/5","i":18,"v":2.65},{"s":"2/1/0/2/0/5","i":19,"v":2.67},{"s":"2/1/0/2/0/5","i":20,"v":2.68},{"s":"2/1/0/2/0/5","i":21,"v":2.68},{"s":"2/1/0/2/0/5","i":22,"v":2.68},{"s":"2/1/0/2/0/5","i":23,"v":2.67},{"s":"2/1/0/2/0/5","i":24,"v":2.67},{"s":"2/1/0/2/0/5","i":25,"v":2.67},{"s":"2/1/0/2/0/5","i":26,"v":2.65},{"s":"2/1/0/2/0/5","i":27,"v":2.65},{"s":"2/1/0/2/0/5","i":28,"v":2.64},{"s":"2/1/0/2/0/5","i":29,"v":2.63},{"s":"2/1/0/2/0/5","i":30,"v":2.63},{"s":"2/1/0/2/0/5","i":31,"v":2.63},
{"s":"2/1/0/2/1/5","i":0,"v":0},{"s":"2/1/0/2/1/5","i":1,"v":-0.14},{"s":"2/1/0/2/1/5","i":2,"v":-0.49},{"s":"2/1/0/2/1/5","i":3,"v":-0.59},{"s":"2/1/0/2/1/5","i":4,"v":-0.81},{"s":"2/1/0/2/1/5","i":5,"v":-0.26},{"s":"2/1/0/2/1/5","i":6,"v":-0.28},{"s":"2/1/0/2/1/5","i":7,"v":-0.33},{"s":"2/1/0/2/1/5","i":8,"v":-0.11},{"s":"2/1/0/2/1/5","i":9,"v":0.45},{"s":"2/1/0/2/1/5","i":10,"v":0.27},{"s":"2/1/0/2/1/5","i":11,"v":0.36},{"s":"2/1/0/2/1/5","i":12,"v":0.40},{"s":"2/1/0/2/1/5","i":13,"v":0.45},{"s":"2/1/0/2/1/5","i":14,"v":0.47},{"s":"2/1/0/2/1/5","i":15,"v":0.52},{"s":"2/1/0/2/1/5","i":16,"v":0.57},{"s":"2/1/0/2/1/5","i":17,"v":0.62},{"s":"2/1/0/2/1/5","i":18,"v":0.66},{"s":"2/1/0/2/1/5","i":19,"v":0.71},{"s":"2/1/0/2/1/5","i":20,"v":0.76},{"s":"2/1/0/2/1/5","i":21,"v":0.81},{"s":"2/1/0/2/1/5","i":22,"v":0.82},{"s":"2/1/0/2/1/5","i":23,"v":0.85},{"s":"2/1/0/2/1/5","i":24,"v":0.93},{"s":"2/1/0/2/1/5","i":25,"v":0.97},{"s":"2/1/0/2/1/5","i":26,"v":1.0},{"s":"2/1/0/2/1/5","i":27,"v":1.02},{"s":"2/1/0/2/1/5","i":28,"v":1.07},{"s":"2/1/0/2/1/5","i":29,"v":1.11},{"s":"2/1/0/2/1/5","i":30,"v":1.16},{"s":"2/1/0/2/1/5","i":31,"v":1.21}
]
},
"bounds":"flush",
"columns":3,
"spacing":{"row":145,"column":181},
"resolve":{"scale":{"color":"independent"},"legend":{"color":"independent"}},
"concat":[
 {"width":347,"height":366,"title":"Alignment Parameter x","data":{"name":"x"},
  "resolve":{"axis":{"x":"independent","y":"independent"}},
  "layer":[
   {"mark":{"type":"line","color":"#000000","strokeWidth":1},
    "encoding":{
     "x":{"field":"i","type":"quantitative","scale":{"domain":[0,31.8],"nice":false,"zero":false},"axis":{"orient":"bottom","values":[2,4,6,8,12,14,16,18,22,24,26,28],"labels":false,"grid":false,"domain":false,"tickSize":-4,"title":null}},
     "y":{"field":"v","type":"quantitative","scale":{"domain":[-218,220],"nice":false,"zero":false},"axis":{"orient":"left","values":[-210,-190,-180,-170,-160,-140,-130,-120,-110,-90,-80,-70,-60,-40,-30,-20,-10,10,20,30,40,60,70,80,90,110,120,130,140,160,170,180,190,210],"labels":false,"grid":false,"domain":false,"tickSize":-4,"title":null}},
     "detail":{"field":"s"}}},
   {"mark":{"type":"circle","size":125,"opacity":1},
    "encoding":{
     "x":{"field":"i","type":"quantitative","axis":{"orient":"bottom","values":[0,10,20,30],"grid":true,"tickSize":-8,"labelPadding":12,"title":"Iterations","titleY":34,"titleBaseline":"middle"}},
     "y":{"field":"v","type":"quantitative","axis":{"orient":"left","values":[-200,-150,-100,-50,0,50,100,150,200],"grid":true,"tickSize":-8,"labelPadding":10,"title":"μm","titleX":-31,"titleY":183,"titleBaseline":"middle"}},
     "color":{"field":"s","type":"nominal","scale":{"domain":["2/1/0/0/0/5","2/1/0/0/1/5","2/1/0/1/0/5","2/1/0/1/1/5","2/1/0/2/0/5","2/1/0/2/1/5"],"range":["#ffffff","#000000","#ff0000","#00ff00","#0000ff","#ffff00"]},"legend":null}}}
  ]},
 {"width":347,"height":366,"title":"Alignment Parameter y","data":{"name":"y"},
  "resolve":{"axis":{"x":"independent","y":"independent"}},
  "layer":[
   {"mark":{"type":"line","color":"#000000","strokeWidth":1},
    "encoding":{
     "x":{"field":"i","type":"quantitative","scale":{"domain":[0,31.8],"nice":false,"zero":false},"axis":{"orient":"bottom","values":[2,4,6,8,12,14,16,18,22,24,26,28],"labels":false,"grid":false,"domain":false,"tickSize":-4,"title":null}},
     "y":{"field":"v","type":"quantitative","scale":{"domain":[-710,717],"nice":false,"zero":false},"axis":{"orient":"left","values":[-700,-650,-550,-500,-450,-350,-300,-250,-150,-100,-50,50,100,150,250,300,350,450,500,550,650,700],"labels":false,"grid":false,"domain":false,"tickSize":-4,"title":null}},
     "detail":{"field":"s"}}},
   {"mark":{"type":"circle","size":125,"opacity":1},
    "encoding":{
     "x":{"field":"i","type":"quantitative","axis":{"orient":"bottom","values":[0,10,20,30],"grid":true,"tickSize":-8,"labelPadding":12,"title":"Iterations","titleY":34,"titleBaseline":"middle"}},
     "y":{"field":"v","type":"quantitative","axis":{"orient":"left","values":[-600,-400,-200,0,200,400,600],"grid":true,"tickSize":-8,"labelPadding":10,"title":"μm","titleX":-31,"titleY":183,"titleBaseline":"middle"}},
     "color":{"field":"s","type":"nominal","scale":{"domain":["2/1/0/0/0/5","2/1/0/0/1/5","2/1/0/1/0/5","2/1/0/1/1/5","2/1/0/2/0/5","2/1/0/2/1/5"],"range":["#ffffff","#000000","#ff0000","#00ff00","#0000ff","#ffff00"]},"legend":null}}}
  ]},
 {"width":347,"height":366,"title":"Alignment Parameter z","data":{"name":"z"},
  "resolve":{"axis":{"x":"independent","y":"independent"}},
  "layer":[
   {"mark":{"type":"line","color":"#000000","strokeWidth":1},
    "encoding":{
     "x":{"field":"i","type":"quantitative","scale":{"domain":[0,31.8],"nice":false,"zero":false},"axis":{"orient":"bottom","values":[2,4,6,8,12,14,16,18,22,24,26,28],"labels":false,"grid":false,"domain":false,"tickSize":-4,"title":null}},
     "y":{"field":"v","type":"quantitative","scale":{"domain":[-1858,1875],"nice":false,"zero":false},"axis":{"orient":"left","values":[-1800,-1700,-1600,-1400,-1300,-1200,-1100,-900,-800,-700,-600,-400,-300,-200,-100,100,200,300,400,600,700,800,900,1100,1200,1300,1400,1600,1700,1800],"labels":false,"grid":false,"domain":false,"tickSize":-4,"title":null}},
     "detail":{"field":"s"}}},
   {"mark":{"type":"circle","size":125,"opacity":1},
    "encoding":{
     "x":{"field":"i","type":"quantitative","axis":{"orient":"bottom","values":[0,10,20,30],"grid":true,"tickSize":-8,"labelPadding":12,"title":"Iterations","titleY":34,"titleBaseline":"middle"}},
     "y":{"field":"v","type":"quantitative","axis":{"orient":"left","values":[-1500,-1000,-500,0,500,1000,1500],"grid":true,"tickSize":-8,"labelPadding":10,"title":"μm","titleX":-31,"titleY":183,"titleBaseline":"middle"}},
     "color":{"field":"s","type":"nominal","scale":{"domain":["2/1/0/0/0/5","2/1/0/0/1/5","2/1/0/1/0/5","2/1/0/1/1/5","2/1/0/2/0/5","2/1/0/2/1/5"],"range":["#ffffff","#000000","#ff0000","#00ff00","#0000ff","#ffff00"]},"legend":null}}}
  ]},
 {"width":347,"height":366,"title":"Alignment Parameter alpha","data":{"name":"alpha"},
  "resolve":{"axis":{"x":"independent","y":"independent"}},
  "layer":[
   {"mark":{"type":"line","color":"#000000","strokeWidth":1},
    "encoding":{
     "x":{"field":"i","type":"quantitative","scale":{"domain":[0,31.8],"nice":false,"zero":false},"axis":{"orient":"bottom","values":[2,4,6,8,12,14,16,18,22,24,26,28],"labels":false,"grid":false,"domain":false,"tickSize":-4,"title":null}},
     "y":{"field":"v","type":"quantitative","scale":{"domain":[-21.8,22.1],"nice":false,"zero":false},"axis":{"orient":"left","values":[-21,-19,-18,-17,-16,-14,-13,-12,-11,-9,-8,-7,-6,-4,-3,-2,-1,1,2,3,4,6,7,8,9,11,12,13,14,16,17,18,19,21],"labels":false,"grid":false,"domain":false,"tickSize":-4,"title":null}},
     "detail":{"field":"s"}}},
   {"mark":{"type":"circle","size":125,"opacity":1},
    "encoding":{
     "x":{"field":"i","type":"quantitative","axis":{"orient":"bottom","values":[0,10,20,30],"grid":true,"tickSize":-8,"labelPadding":12,"title":"Iterations","titleY":34,"titleBaseline":"middle"}},
     "y":{"field":"v","type":"quantitative","axis":{"orient":"left","values":[-20,-15,-10,-5,0,5,10,15,20],"grid":true,"tickSize":-8,"labelPadding":10,"title":"mrad","titleX":-31,"titleY":183,"titleBaseline":"middle"}},
     "color":{"field":"s","type":"nominal","scale":{"domain":["2/1/0/0/0/5","2/1/0/0/1/5","2/1/0/1/0/5","2/1/0/1/1/5","2/1/0/2/0/5","2/1/0/2/1/5"],"range":["#ffffff","#000000","#ff0000","#00ff00","#0000ff","#ffff00"]},
      "legend":{"orient":"top-left","offset":0,"title":" ","titleOrient":"right","titleFontSize":1,"titlePadding":34,"fillColor":"#ffffff","strokeColor":"#000000","padding":5,"symbolType":"circle","symbolSize":121,"symbolStrokeWidth":0,"symbolOffset":6,"labelOffset":9,"labelFont":"Liberation Sans","labelFontSize":15.5,"labelFontWeight":"normal","labelColor":"#000000","rowPadding":7.6}}}}
  ]},
 {"width":347,"height":366,"title":"Alignment Parameter beta","data":{"name":"beta"},
  "resolve":{"axis":{"x":"independent","y":"independent"}},
  "layer":[
   {"mark":{"type":"line","color":"#000000","strokeWidth":1},
    "encoding":{
     "x":{"field":"i","type":"quantitative","scale":{"domain":[0,31.8],"nice":false,"zero":false},"axis":{"orient":"bottom","values":[2,4,6,8,12,14,16,18,22,24,26,28],"labels":false,"grid":false,"domain":false,"tickSize":-4,"title":null}},
     "y":{"field":"v","type":"quantitative","scale":{"domain":[-62.3,63.1],"nice":false,"zero":false},"axis":{"orient":"left","values":[-55,-50,-45,-35,-30,-25,-15,-10,-5,5,10,15,25,30,35,45,50,55],"labels":false,"grid":false,"domain":false,"tickSize":-4,"title":null}},
     "detail":{"field":"s"}}},
   {"mark":{"type":"circle","size":125,"opacity":1},
    "encoding":{
     "x":{"field":"i","type":"quantitative","axis":{"orient":"bottom","values":[0,10,20,30],"grid":true,"tickSize":-8,"labelPadding":12,"title":"Iterations","titleY":34,"titleBaseline":"middle"}},
     "y":{"field":"v","type":"quantitative","axis":{"orient":"left","values":[-60,-40,-20,0,20,40,60],"grid":true,"tickSize":-8,"labelPadding":10,"title":"mrad","titleX":-31,"titleY":183,"titleBaseline":"middle"}},
     "color":{"field":"s","type":"nominal","scale":{"domain":["2/1/0/0/0/5","2/1/0/0/1/5","2/1/0/1/0/5","2/1/0/1/1/5","2/1/0/2/0/5","2/1/0/2/1/5"],"range":["#ffffff","#000000","#ff0000","#00ff00","#0000ff","#ffff00"]},"legend":null}}}
  ]},
 {"width":347,"height":366,"title":"Alignment Parameter gamma","data":{"name":"gamma"},
  "resolve":{"axis":{"x":"independent","y":"independent"}},
  "layer":[
   {"mark":{"type":"line","color":"#000000","strokeWidth":1},
    "encoding":{
     "x":{"field":"i","type":"quantitative","scale":{"domain":[0,31.8],"nice":false,"zero":false},"axis":{"orient":"bottom","values":[2,4,6,8,12,14,16,18,22,24,26,28],"labels":false,"grid":false,"domain":false,"tickSize":-4,"title":null}},
     "y":{"field":"v","type":"quantitative","scale":{"domain":[-5.16,5.2],"nice":false,"zero":false},"axis":{"orient":"left","values":[-5,-4.5,-3.5,-3,-2.5,-1.5,-1,-0.5,0.5,1,1.5,2.5,3,3.5,4.5,5],"labels":false,"grid":false,"domain":false,"tickSize":-4,"title":null}},
     "detail":{"field":"s"}}},
   {"mark":{"type":"circle","size":125,"opacity":1},
    "encoding":{
     "x":{"field":"i","type":"quantitative","axis":{"orient":"bottom","values":[0,10,20,30],"grid":true,"tickSize":-8,"labelPadding":12,"title":"Iterations","titleY":34,"titleBaseline":"middle"}},
     "y":{"field":"v","type":"quantitative","axis":{"orient":"left","values":[-4,-2,0,2,4],"grid":true,"tickSize":-8,"labelPadding":10,"title":"mrad","titleX":-31,"titleY":183,"titleBaseline":"middle"}},
     "color":{"field":"s","type":"nominal","scale":{"domain":["2/1/0/0/0/5","2/1/0/0/1/5","2/1/0/1/0/5","2/1/0/1/1/5","2/1/0/2/0/5","2/1/0/2/1/5"],"range":["#ffffff","#000000","#ff0000","#00ff00","#0000ff","#ffff00"]},"legend":null}}}
  ]}
]
}
